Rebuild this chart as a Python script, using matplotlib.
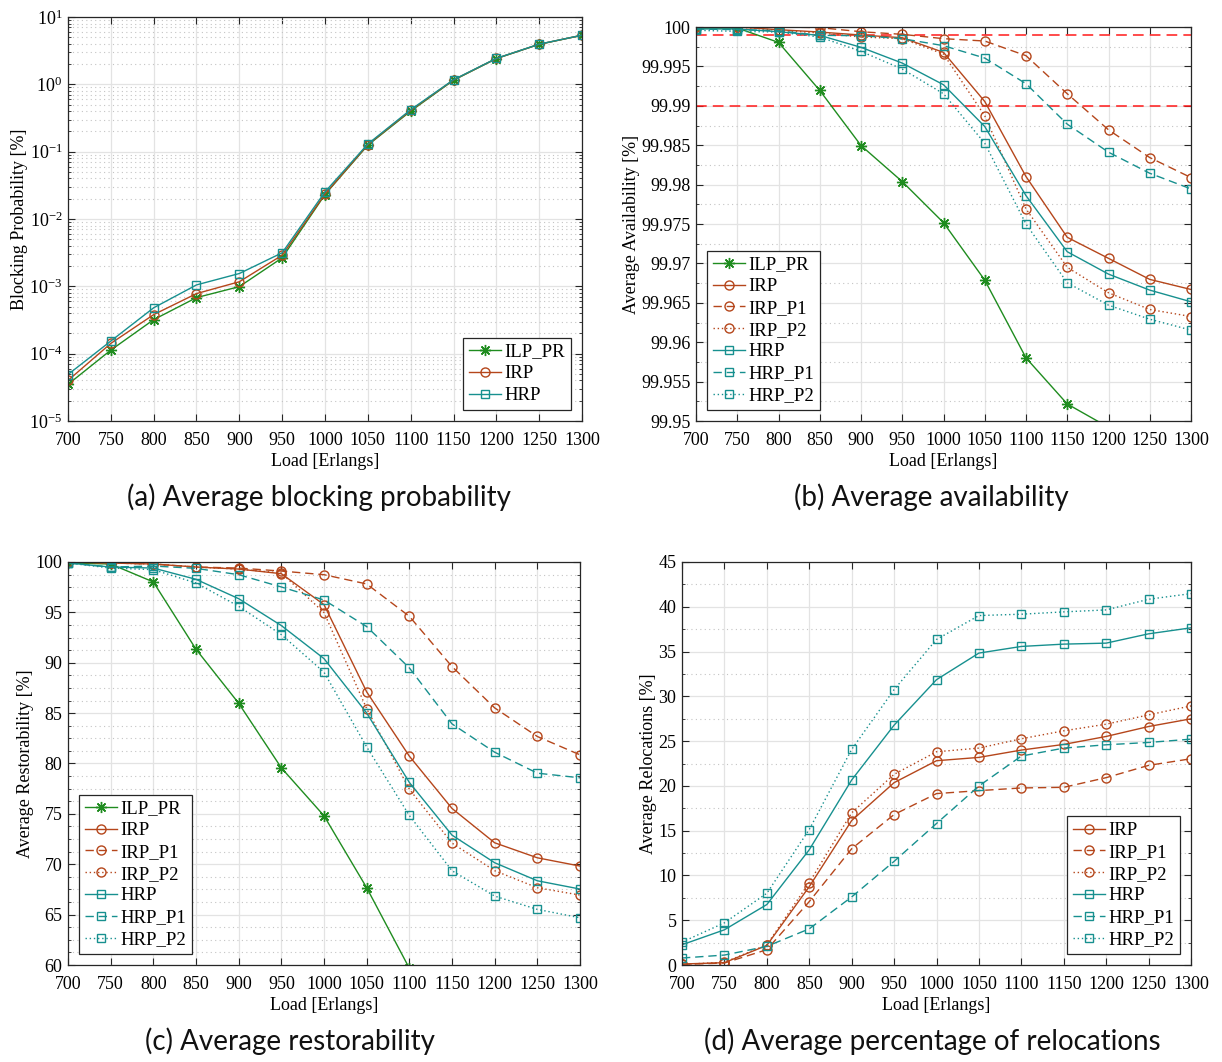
import numpy as np
import matplotlib
matplotlib.use("Agg")
import matplotlib.pyplot as plt
from matplotlib.ticker import FixedLocator, FixedFormatter, LogLocator, NullFormatter, MultipleLocator

plt.rcParams['font.family'] = ['Liberation Serif', 'DejaVu Serif']
plt.rcParams['mathtext.fontset'] = 'custom'
plt.rcParams['mathtext.rm'] = 'Liberation Serif'
plt.rcParams['mathtext.it'] = 'Liberation Serif:italic'

# ---------------- data ----------------
load = [700, 750, 800, 850, 900, 950, 1000, 1050, 1100, 1150, 1200, 1250, 1300]

# (a) blocking probability [%]
blk_ilp = [3.5e-5, 1.13e-4, 3.2e-4, 6.8e-4, 9.9e-4, 2.65e-3, 0.0231, 0.125, 0.40, 1.15, 2.41, 3.93, 5.35]
blk_irp = [4.0e-5, 1.42e-4, 3.8e-4, 7.8e-4, 1.17e-3, 2.9e-3, 0.0235, 0.127, 0.41, 1.16, 2.42, 3.94, 5.36]
blk_hrp = [4.9e-5, 1.54e-4, 4.8e-4, 1.05e-3, 1.55e-3, 3.15e-3, 0.0253, 0.130, 0.42, 1.17, 2.43, 3.95, 5.37]

# (b) availability [%]
av_ilp = [99.99987, 99.99987, 99.99805, 99.99195, 99.98496, 99.98038, 99.97517, 99.96788, 99.95801, 99.95216, 99.9492, np.nan, np.nan]
av_irp = [100.0, 100.0, 99.99966, 99.99936, 99.99898, 99.99864, 99.99678, 99.99055, 99.98102, 99.97331, 99.97064, 99.96797, 99.96669]
av_irp_p1 = [100.0, 100.0, 100.0, 99.99992, 99.9994, 99.99907, 99.99852, 99.99822, 99.99636, 99.99153, 99.98695, 99.98343, 99.98089]
av_irp_p2 = [100.0, 100.0, 99.99958, 99.99924, 99.99873, 99.99852, 99.99657, 99.98873, 99.97691, 99.9695, 99.96627, 99.96415, 99.96326]
av_hrp = [99.99975, 99.99975, 99.9994, 99.99894, 99.99742, 99.99542, 99.99267, 99.98737, 99.9786, 99.97148, 99.96864, 99.96661, 99.96513]
av_hrp_p1 = [99.99975, 99.99966, 99.99953, 99.99894, 99.9989, 99.99852, 99.99763, 99.99606, 99.9928, 99.98767, 99.98411, 99.98144, 99.97945]
av_hrp_p2 = [99.99958, 99.99945, 99.99936, 99.99873, 99.99691, 99.99466, 99.99153, 99.98525, 99.975, 99.96754, 99.9647, 99.96292, 99.96153]
av_thresholds = [99.999, 99.99]

# (c) restorability [%]
rs_ilp = [99.9, 99.8, 98.02, 91.34, 85.98, 79.57, 74.81, 67.67, 59.68, np.nan, np.nan, np.nan, np.nan]
rs_irp = [100.0, 99.9, 99.8, 99.5, 99.3, 98.84, 95.77, 87.11, 80.73, 75.54, 72.13, 70.64, 69.82]
rs_irp_p1 = [100.0, 99.9, 99.8, 99.5, 99.4, 99.1, 98.74, 97.82, 94.61, 89.62, 85.52, 82.68, 80.86]
rs_irp_p2 = [100.0, 99.9, 99.8, 99.5, 99.3, 98.9, 94.98, 85.45, 77.45, 72.1, 69.36, 67.67, 66.94]
rs_hrp = [99.9, 99.5, 99.4, 98.28, 96.36, 93.69, 90.41, 85.02, 78.12, 72.89, 70.15, 68.36, 67.54]
rs_hrp_p1 = [99.9, 99.5, 99.6, 99.37, 98.74, 97.52, 96.23, 93.59, 89.49, 83.93, 81.12, 79.04, 78.58]
rs_hrp_p2 = [99.9, 99.4, 99.24, 97.92, 95.6, 92.79, 89.06, 81.65, 74.84, 69.36, 66.84, 65.52, 64.69]

# (d) relocations [%]
rl_irp = [0.11, 0.26, 2.19, 8.75, 16.13, 20.36, 22.81, 23.18, 24.0, 24.63, 25.52, 26.63, 27.49]
rl_irp_p1 = [0.07, 0.22, 1.71, 7.08, 12.98, 16.8, 19.14, 19.47, 19.77, 19.84, 20.92, 22.29, 23.03]
rl_irp_p2 = [0.07, 0.3, 2.26, 9.2, 16.99, 21.29, 23.81, 24.22, 25.26, 26.15, 26.89, 27.93, 28.93]
rl_hrp = [2.26, 3.93, 6.75, 12.87, 20.66, 26.78, 31.86, 34.83, 35.57, 35.83, 35.94, 36.98, 37.65]
rl_hrp_p1 = [0.78, 1.11, 2.08, 4.04, 7.6, 11.57, 15.8, 19.99, 23.33, 24.22, 24.59, 24.85, 25.22]
rl_hrp_p2 = [2.56, 4.71, 8.01, 15.13, 24.07, 30.75, 36.35, 39.02, 39.17, 39.43, 39.65, 40.84, 41.47]

captions = ["(a) Average blocking probability", "(b) Average availability",
            "(c) Average restorability", "(d) Average percentage of relocations"]

# ---------------- styles ----------------
GREEN = '#1f8c1f'
ORANGE = '#b5461b'
TEAL = '#17908f'
DASH = (0, (6, 3.5))
DOT = (0, (1, 2))

def st(name):
    base = dict(lw=1.0, mfc='none', mew=1.0)
    if name == 'ILP_PR':
        base.update(color=GREEN, marker=(8, 2, 0), ms=8, ls='-', mew=1.0)
    elif name.startswith('IRP'):
        base.update(color=ORANGE, marker='o', ms=6.5)
    else:
        base.update(color=TEAL, marker='s', ms=5.5)
    if name.endswith('_P1'):
        base['ls'] = DASH
    elif name.endswith('_P2'):
        base['ls'] = DOT
    elif name != 'ILP_PR':
        base['ls'] = '-'
    return base

TICK_FS = 13
LAB_FS = 13
LEG_FS = 13.5

def style_axes(ax):
    ax.set_xlim(700, 1300)
    ax.set_xticks(load)
    ax.tick_params(which='both', direction='in', top=True, right=True, labelsize=TICK_FS, color='#262626')
    ax.tick_params(which='major', length=5, width=0.8)
    ax.tick_params(which='minor', length=2.5, width=0.6)
    ax.tick_params(axis='x', pad=8)
    ax.tick_params(axis='y', pad=4)
    ax.grid(True, which='major', color='#e3e3e3', lw=0.9, ls='-')
    ax.grid(True, which='minor', axis='y', color='#c4c4c4', lw=0.8, ls=(0, (1, 3)))
    ax.set_axisbelow(True)
    for s in ax.spines.values():
        s.set_color('#262626')
        s.set_linewidth(0.9)
    ax.set_xlabel("Load [Erlangs]", fontsize=LAB_FS, labelpad=3)

def legend(ax, loc):
    lg = ax.legend(loc=loc, fontsize=LEG_FS, frameon=True, fancybox=False, edgecolor='#262626',
                   framealpha=1, handlelength=1.7, handletextpad=0.2, borderpad=0.3,
                   labelspacing=0.25, borderaxespad=0.6)
    lg.get_frame().set_linewidth(0.9)

fig = plt.figure(figsize=(12.22, 10.62), dpi=100)
W, H = 1222, 1062
def pos(l, r, t, b):
    return [l / W, 1 - b / H, (r - l) / W, (b - t) / H]

# (a)
ax = fig.add_axes(pos(68, 582, 17, 421))
for name, vals in [('ILP_PR', blk_ilp), ('IRP', blk_irp), ('HRP', blk_hrp)]:
    ax.plot(load, vals, label=name, **st(name))
ax.set_yscale('log')
ax.set_ylim(1e-5, 10)
ax.yaxis.set_major_locator(LogLocator(base=10, numticks=10))
ax.yaxis.set_minor_locator(LogLocator(base=10, subs=np.arange(2, 10), numticks=20))
ax.yaxis.set_minor_formatter(NullFormatter())
style_axes(ax)
ax.set_ylabel("Blocking Probability [%]", fontsize=LAB_FS, labelpad=1)
legend(ax, 'lower right')

# (b)
ax = fig.add_axes(pos(696, 1191, 27, 421))
for v in av_thresholds:
    ax.axhline(v, color='#ff1a1a', lw=1.1, ls=(0, (7, 4)), zorder=1.5)
series_b = [('ILP_PR', av_ilp), ('IRP', av_irp), ('IRP_P1', av_irp_p1), ('IRP_P2', av_irp_p2),
            ('HRP', av_hrp), ('HRP_P1', av_hrp_p1), ('HRP_P2', av_hrp_p2)]
for name, vals in series_b:
    ax.plot(load, vals, label=name, clip_on=True, **st(name))
ax.set_ylim(99.95, 100.0)
bt = [round(99.95 + 0.005 * i, 3) for i in range(11)]
ax.yaxis.set_major_locator(FixedLocator(bt))
ax.yaxis.set_major_formatter(FixedFormatter([f"{v:g}" for v in bt]))
ax.yaxis.set_minor_locator(FixedLocator([99.95 + 0.0025 + 0.005 * i for i in range(10)]))
style_axes(ax)
ax.set_ylabel("Average Availability [%]", fontsize=LAB_FS, labelpad=1)
legend(ax, 'lower left')

# (c)
ax = fig.add_axes(pos(68, 580, 562, 965))
series_c = [('ILP_PR', rs_ilp), ('IRP', rs_irp), ('IRP_P1', rs_irp_p1), ('IRP_P2', rs_irp_p2),
            ('HRP', rs_hrp), ('HRP_P1', rs_hrp_p1), ('HRP_P2', rs_hrp_p2)]
for name, vals in series_c:
    ax.plot(load, vals, label=name, **st(name))
ax.set_ylim(60, 100)
ax.yaxis.set_major_locator(MultipleLocator(5))
ax.yaxis.set_minor_locator(MultipleLocator(1.25))
style_axes(ax)
ax.set_ylabel("Average Restorability [%]", fontsize=LAB_FS, labelpad=1)
legend(ax, 'lower left')

# (d)
ax = fig.add_axes(pos(682, 1191, 562, 965))
series_d = [('IRP', rl_irp), ('IRP_P1', rl_irp_p1), ('IRP_P2', rl_irp_p2),
            ('HRP', rl_hrp), ('HRP_P1', rl_hrp_p1), ('HRP_P2', rl_hrp_p2)]
for name, vals in series_d:
    ax.plot(load, vals, label=name, **st(name))
ax.set_ylim(0, 45)
ax.yaxis.set_major_locator(MultipleLocator(5))
ax.yaxis.set_minor_locator(MultipleLocator(2.5))
style_axes(ax)
ax.set_ylabel("Average Relocations [%]", fontsize=LAB_FS, labelpad=1)
legend(ax, 'lower right')

# captions
cap_pos = [(319, 497), (931, 497), (290, 1041), (932, 1041)]
for (cx, cy), txt in zip(cap_pos, captions):
    fig.text(cx / W, 1 - cy / H, txt, ha='center', va='center', fontsize=20,
             family=['Lato', 'DejaVu Sans'], color='#111111')

fig.savefig("out.png", dpi=100)
